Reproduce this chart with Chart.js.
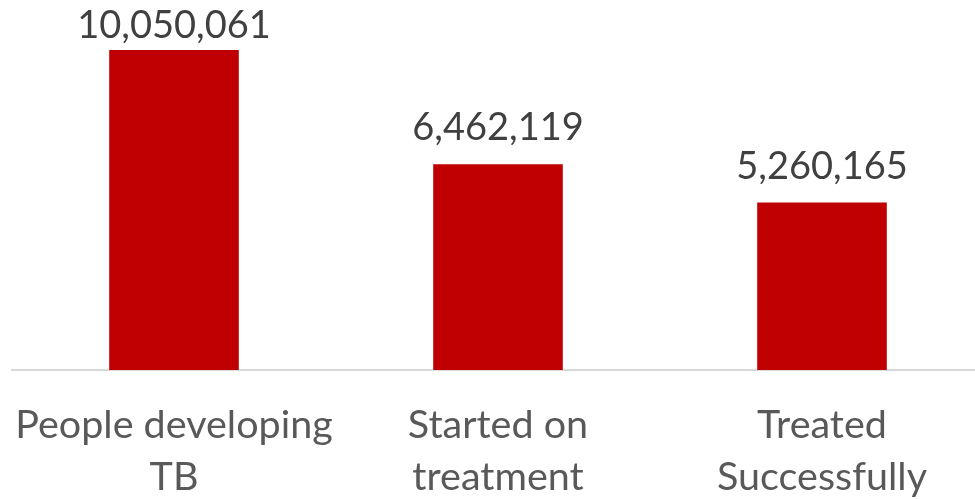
<!DOCTYPE html>
<html>
<head>
<meta charset="utf-8">
<script src="https://cdn.jsdelivr.net/npm/chart.js@4"></script>
<style>
  html, body { margin: 0; padding: 0; background: #fff; overflow: hidden; }
  #wrap { width: 984px; height: 499px; position: relative; }
</style>
</head>
<body>
<div id="wrap"><canvas id="c"></canvas></div>
<script>
const categories = [["People developing", "TB"], ["Started on", "treatment"], ["Treated", "Successfully"]];
const values = [10050061, 6462119, 5260165];

const FONT = "Lato, 'Open Sans', sans-serif";

const valueLabels = {
  id: 'valueLabels',
  afterDatasetsDraw(chart) {
    const ctx = chart.ctx;
    const meta = chart.getDatasetMeta(0);
    ctx.save();
    ctx.font = "38px " + FONT;
    ctx.fillStyle = '#404040';
    ctx.textAlign = 'center';
    ctx.textBaseline = 'middle';
    meta.data.forEach((bar, i) => {
      const txt = values[i].toLocaleString('en-US');
      const y = Math.max(bar.y - 36, 26);
      ctx.fillText(txt, bar.x, y);
    });
    ctx.restore();
  }
};

new Chart(document.getElementById('c'), {
  type: 'bar',
  data: {
    labels: categories,
    datasets: [{
      data: values,
      backgroundColor: '#C00000',
      borderWidth: 0,
      categoryPercentage: 1.0,
      barPercentage: 0.4
    }]
  },
  options: {
    responsive: true,
    maintainAspectRatio: false,
    animation: false,
    layout: { padding: { left: 12, right: 0, top: 50, bottom: 0 } },
    plugins: { legend: { display: false }, tooltip: { enabled: false } },
    scales: {
      x: {
        grid: { display: false, drawTicks: false },
        border: { display: true, color: '#D9D9D9', width: 2 },
        ticks: {
          color: '#595959',
          font: { family: FONT, size: 39.5, lineHeight: 1.3 },
          padding: 30,
          maxRotation: 0,
          autoSkip: false
        },
        afterFit(scale) {
          scale.height = 129;
          scale.paddingLeft = 0;
          scale.paddingRight = 0;
        }
      },
      y: {
        display: false,
        min: 0,
        max: Math.max(...values)
      }
    }
  },
  plugins: [valueLabels]
});
</script>
</body>
</html>
